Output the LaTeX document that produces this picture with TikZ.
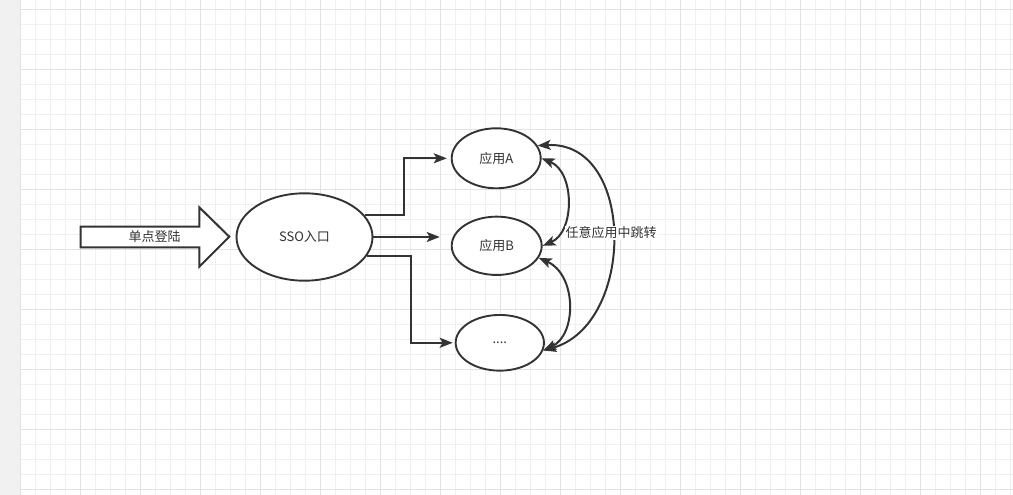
\documentclass[tikz,border=0pt]{standalone}
\usepackage{fontspec}
\newfontfamily\cjk{Noto Sans CJK SC}
\usetikzlibrary{shapes.geometric,arrows.meta,calc}
\definecolor{gridminor}{HTML}{F0F0F0}
\definecolor{gridmajor}{HTML}{E2E2E2}
\definecolor{band}{HTML}{F1F1F1}
\definecolor{ink}{HTML}{333333}
\begin{document}
\begin{tikzpicture}[x=1pt,y=-1pt,
  box/.style={ellipse,draw=ink,line width=1.9pt,inner sep=0pt,fill=white,font=\cjk\fontsize{13}{15}\selectfont,text=ink},
  conn/.style={draw=ink,line width=2pt,-{Stealth[length=13pt,width=10pt,inset=3pt]}},
  both/.style={draw=ink,line width=2pt,{Stealth[length=13pt,width=10pt,inset=3pt]}-{Stealth[length=13pt,width=10pt,inset=3pt]}},
  txt/.style={font=\cjk\fontsize{13}{15}\selectfont,text=ink,inner sep=1pt}]
\useasboundingbox (0,0) rectangle (1013,495);
\fill[white] (0,0) rectangle (1013,495);
\fill[band] (0,0) rectangle (20,495);
% grid
\foreach \k in {0,...,66} { \draw[gridminor,line width=1pt] ({20+15*\k},0) -- ({20+15*\k},495); }
\foreach \k in {0,...,32} { \draw[gridminor,line width=1pt] (20,{9.5+15*\k}) -- (1013,{9.5+15*\k}); }
\foreach \k in {0,4,...,64} { \draw[gridmajor,line width=1pt] ({20+15*\k},0) -- ({20+15*\k},495); }
\foreach \k in {0,4,...,32} { \draw[gridmajor,line width=1pt] (20,{9.5+15*\k}) -- (1013,{9.5+15*\k}); }
% block arrow
\draw[ink,line width=2pt,fill=white,line join=miter] (80.7,226.7) -- (199.3,226.7) -- (199.3,207.3) -- (229.3,236.7) -- (199.3,266.7) -- (199.3,247.3) -- (80.7,247.3) -- cycle;
\node[txt] (login) at (154.5,237) {单点登陆};
% nodes
\node[box,minimum width=136pt,minimum height=87.4pt] (S) at (304.5,237) {SSO入口};
\node[box,minimum width=89pt,minimum height=60pt] (A) at (496.2,158.3) {应用A};
\node[box,minimum width=90pt,minimum height=58.3pt] (B) at (496.7,245.8) {应用B};
\node[box,minimum width=88.3pt,minimum height=55.7pt] (D) at (499.8,342.8) {....};
% connectors
\draw[conn,shorten >=4pt] (S.20) -- ++(39,0) |- (A.west);
\draw[conn,shorten >=11pt] (S.east) -- (S.east -| B.west);
\draw[conn,shorten >=2pt] (S.-17) -- ++(44,0) |- (D.west);
\draw[both] (A.0) .. controls (575,172) and (575,232) .. (B.0);
\draw[both] (B.-16) .. controls (577,275) and (577,335) .. (D.-10);
\draw[both] (A.17) .. controls (636,140) and (636,325) .. (D.-10);
\node[txt,fill=white] (jump) at (611,233) {任意应用中跳转};
\end{tikzpicture}
\end{document}
